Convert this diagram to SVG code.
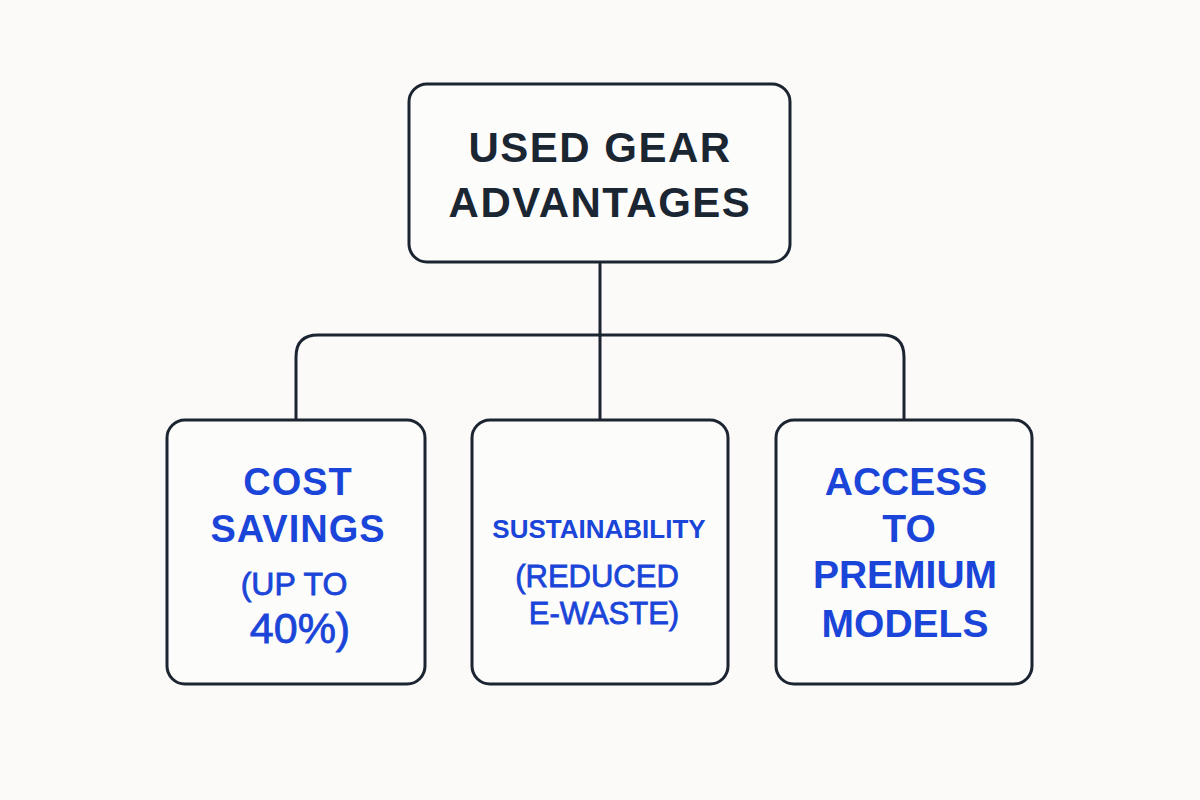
<svg xmlns="http://www.w3.org/2000/svg" width="1200" height="800" viewBox="0 0 1200 800">
<style>
.box{fill:#fcfcfb;stroke:#1b2430;stroke-width:3}
.conn{fill:none;stroke:#1b2430;stroke-width:3}
.title{font-family:"Liberation Sans",Arial,sans-serif;font-weight:bold;font-size:42px;fill:#1b2633;text-anchor:middle;letter-spacing:1.5px}
.b{font-family:"Liberation Sans",Arial,sans-serif;font-weight:bold;fill:#1a45d8;text-anchor:middle}
.r{font-family:"Liberation Sans",Arial,sans-serif;fill:#1a45d8;stroke:#1a45d8;stroke-width:0.8;text-anchor:middle}
</style>
<rect width="1200" height="800" fill="#fbfaf8"/>
<g id="connectors">
<path class="conn" d="M600,262 V420"/>
<path class="conn" d="M296,420 V357 Q296,335 318,335 H882 Q904,335 904,357 V420"/>
</g>
<g id="root">
<rect class="box" x="409" y="84" width="381" height="178" rx="18"/>
<text class="title" x="600" y="162">USED GEAR</text>
<text class="title" x="600" y="217">ADVANTAGES</text>
</g>
<g id="cost">
<rect class="box" x="167" y="420" width="258" height="264" rx="18"/>
<text class="b" x="298" y="495" font-size="38" letter-spacing="1">COST</text>
<text class="b" x="298" y="542" font-size="38" letter-spacing="1">SAVINGS</text>
<text class="r" x="294" y="595" font-size="32">(UP TO</text>
<text class="r" x="300" y="643" font-size="43">40%)</text>
</g>
<g id="sustainability">
<rect class="box" x="472" y="420" width="256" height="264" rx="18"/>
<text class="b" x="599" y="538" font-size="26">SUSTAINABILITY</text>
<text class="r" x="597" y="587" font-size="31">(REDUCED</text>
<text class="r" x="604" y="624" font-size="31">E-WASTE)</text>
</g>
<g id="access">
<rect class="box" x="776" y="420" width="256" height="264" rx="18"/>
<text class="b" x="906" y="495" font-size="39">ACCESS</text>
<text class="b" x="909" y="542" font-size="39">TO</text>
<text class="b" x="905" y="588" font-size="39">PREMIUM</text>
<text class="b" x="905" y="637" font-size="39">MODELS</text>
</g>
</svg>
